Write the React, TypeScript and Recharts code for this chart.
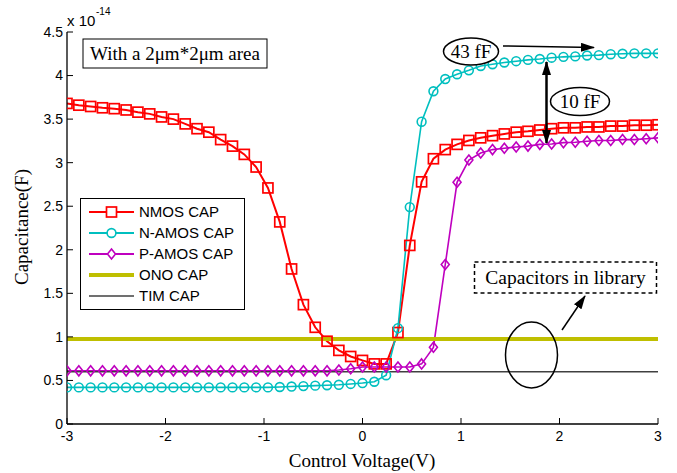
import { LineChart, Line, XAxis, YAxis } from 'recharts';

// gate voltage sweep (V)
const voltage = [
  -3, -2.88, -2.76, -2.64, -2.52, -2.4, -2.28, -2.16, -2.04, -1.92, -1.8, -1.68, -1.56,
  -1.44, -1.32, -1.2, -1.08, -0.96, -0.84, -0.72, -0.6, -0.48, -0.36, -0.24, -0.12, 0,
  0.12, 0.24, 0.36, 0.48, 0.6, 0.72, 0.84, 0.96, 1.08, 1.2, 1.32, 1.44, 1.56, 1.68, 1.8,
  1.92, 2.04, 2.16, 2.28, 2.4, 2.52, 2.64, 2.76, 2.88, 3,
];

// capacitance, x 1e-14 F
const nmosCap = [
  3.68, 3.66, 3.645, 3.63, 3.62, 3.605, 3.58, 3.56, 3.525, 3.5, 3.445, 3.39, 3.35, 3.265,
  3.19, 3.095, 2.95, 2.71, 2.32, 1.78, 1.37, 1.11, 0.95, 0.845, 0.775, 0.73, 0.69, 0.69,
  1.05, 2.05, 2.78, 3.045, 3.15, 3.21, 3.255, 3.285, 3.31, 3.33, 3.35, 3.36, 3.375, 3.39,
  3.4, 3.4, 3.41, 3.41, 3.42, 3.42, 3.43, 3.43, 3.435,
];
const namosCap = [
  0.42, 0.42, 0.42, 0.42, 0.42, 0.42, 0.42, 0.42, 0.42, 0.42, 0.42, 0.42, 0.42, 0.42,
  0.42, 0.42, 0.42, 0.42, 0.425, 0.43, 0.435, 0.44, 0.445, 0.45, 0.46, 0.47, 0.485, 0.56,
  1.1, 2.49, 3.47, 3.82, 3.96, 4.015, 4.06, 4.11, 4.13, 4.15, 4.165, 4.18, 4.19, 4.205,
  4.215, 4.22, 4.23, 4.235, 4.245, 4.25, 4.255, 4.255, 4.255,
];
const pamosCap = [
  0.61, 0.61, 0.61, 0.61, 0.61, 0.61, 0.61, 0.61, 0.61, 0.61, 0.61, 0.61, 0.61, 0.61,
  0.61, 0.61, 0.61, 0.61, 0.61, 0.61, 0.61, 0.61, 0.61, 0.62, 0.635, 0.655, 0.655, 0.655,
  0.655, 0.655, 0.69, 0.88, 1.83, 2.775, 3.03, 3.11, 3.15, 3.165, 3.18, 3.19, 3.21, 3.215,
  3.23, 3.235, 3.245, 3.255, 3.255, 3.265, 3.265, 3.275, 3.285,
];
// library caps are flat over the sweep
const flatEnds = [-3, 3];
const onoCap = [0.975, 0.975];
const timCap = [0.6, 0.6];

const xTicks = [-3, -2, -1, 0, 1, 2, 3];
const yTicks = [0, 0.5, 1, 1.5, 2, 2.5, 3, 3.5, 4, 4.5];

const data = voltage.map((v, i) => ({
  v,
  nmos: nmosCap[i],
  namos: namosCap[i],
  pamos: pamosCap[i],
}));
const onoData = flatEnds.map((v, i) => ({ v, ono: onoCap[i] }));
const timData = flatEnds.map((v, i) => ({ v, tim: timCap[i] }));

const RED = '#ff0000';
const CYAN = '#00bfbf';
const MAGENTA = '#bf00bf';
const OLIVE = '#bfbf00';
const GREY = '#404040';
const SANS = 'Liberation Sans, Arial, sans-serif';
const SERIF = 'Liberation Serif, Times New Roman, serif';

const Square = (p: any) => (
  <rect key={p.index} x={p.cx - 5} y={p.cy - 5} width={10} height={10} fill="none" stroke={RED} strokeWidth={1.7} />
);
const Circle = (p: any) => (
  <circle key={p.index} cx={p.cx} cy={p.cy} r={4.4} fill="none" stroke={CYAN} strokeWidth={1.6} />
);
const Diamond = (p: any) => (
  <path
    key={p.index}
    d={`M${p.cx},${p.cy - 5}L${p.cx + 4},${p.cy}L${p.cx},${p.cy + 5}L${p.cx - 4},${p.cy}Z`}
    fill="none"
    stroke={MAGENTA}
    strokeWidth={1.6}
  />
);

const XTick = (p: any) => (
  <g>
    <line x1={p.x} x2={p.x} y1={p.y - 6} y2={p.y - 12} stroke="#000" />
    <text x={p.x} y={p.y} dy="0.8em" textAnchor="middle" fontFamily={SANS} fontSize={14} fill="#000">
      {p.payload.value}
    </text>
  </g>
);
const YTick = (p: any) => (
  <g>
    <line x1={p.x + 4} x2={p.x + 10} y1={p.y} y2={p.y} stroke="#000" />
    <text x={p.x} y={p.y} dy="0.35em" textAnchor="end" fontFamily={SANS} fontSize={14} fill="#000">
      {p.payload.value}
    </text>
  </g>
);

const legendItems = [
  { name: 'NMOS CAP', color: RED, width: 2, mark: 'square' },
  { name: 'N-AMOS CAP', color: CYAN, width: 2, mark: 'circle' },
  { name: 'P-AMOS CAP', color: MAGENTA, width: 2, mark: 'diamond' },
  { name: 'ONO CAP', color: OLIVE, width: 4, mark: '' },
  { name: 'TIM CAP', color: GREY, width: 1.5, mark: '' },
];

function Overlay() {
  return (
    <svg width={677} height={473} style={{ position: 'absolute', left: 0, top: 0, pointerEvents: 'none' }}>
      <defs>
        <marker
          id="head"
          viewBox="0 0 14 9"
          refX="13"
          refY="4.5"
          markerUnits="userSpaceOnUse"
          markerWidth="14"
          markerHeight="9"
          orient="auto-start-reverse"
        >
          <path d="M0,0L14,4.5L0,9Z" fill="#000" />
        </marker>
      </defs>
      {/* exponent */}
      <text x={67} y={26} fontFamily={SANS} fontSize={15}>x 10</text>
      <text x={96} y={15} fontFamily={SANS} fontSize={10}>-14</text>

      {/* axis titles */}
      <text x={362} y={467} textAnchor="middle" fontFamily={SERIF} fontSize={19}>Control Voltage(V)</text>
      <text x={28} y={227} textAnchor="middle" fontFamily={SERIF} fontSize={19} transform="rotate(-90 28 227)">
        Capacitance(F)
      </text>

      {/* area note */}
      <rect x={83} y={39} width={184} height={29} fill="#fff" stroke="#000" />
      <text x={175} y={60} textAnchor="middle" fontFamily={SERIF} fontSize={19}>With a 2μm*2μm area</text>

      {/* 43 fF */}
      <ellipse cx={471} cy={51.5} rx={27.5} ry={13.5} fill="#fff" stroke="#000" strokeWidth={1.5} />
      <text x={471} y={58} textAnchor="middle" fontFamily={SERIF} fontSize={19}>43 fF</text>
      <line x1={503} y1={46} x2={594} y2={47.5} stroke="#000" strokeWidth={1.5} markerEnd="url(#head)" />

      {/* 10 fF */}
      <line x1={546.5} y1={62} x2={546.5} y2={143} stroke="#000" strokeWidth={2.5} markerStart="url(#head)" markerEnd="url(#head)" />
      <ellipse cx={580} cy={101.5} rx={29.5} ry={14} fill="#fff" stroke="#000" strokeWidth={1.5} />
      <text x={580} y={108} textAnchor="middle" fontFamily={SERIF} fontSize={19}>10 fF</text>

      {/* library caps */}
      <rect x={474.5} y={262} width={182} height={31} fill="#fff" stroke="#000" strokeWidth={1.5} strokeDasharray="4 3" />
      <text x={565.5} y={284} textAnchor="middle" fontFamily={SERIF} fontSize={19.5}>Capacitors in library</text>
      <line x1={562} y1={330} x2={585} y2={296} stroke="#000" strokeWidth={1.5} markerEnd="url(#head)" />
      <ellipse cx={531.5} cy={355} rx={26} ry={33} fill="none" stroke="#000" strokeWidth={1.5} />

      {/* legend */}
      <rect x={80.5} y={198.5} width={164} height={111} fill="#fff" stroke="#000" />
      {legendItems.map((it, i) => {
        const y = 212 + i * 21;
        return (
          <g key={it.name}>
            <line x1={89} x2={134} y1={y} y2={y} stroke={it.color} strokeWidth={it.width} />
            {it.mark === 'square' && <rect x={106.5} y={y - 5} width={10} height={10} fill="#fff" stroke={RED} strokeWidth={1.7} />}
            {it.mark === 'circle' && <circle cx={111.5} cy={y} r={4.4} fill="#fff" stroke={CYAN} strokeWidth={1.6} />}
            {it.mark === 'diamond' && (
              <path d={`M111.5,${y - 5}L115.5,${y}L111.5,${y + 5}L107.5,${y}Z`} fill="#fff" stroke={MAGENTA} strokeWidth={1.6} />
            )}
            <text x={139} y={y} dy="0.35em" fontFamily={SANS} fontSize={15}>{it.name}</text>
          </g>
        );
      })}
    </svg>
  );
}

export default function App() {
  return (
    <div style={{ position: 'absolute', left: 0, top: 0, width: 677, height: 473, background: '#fff' }}>
      <LineChart width={677} height={473} data={data} margin={{ top: 32, right: 19, bottom: 19, left: 7 }}>
        <XAxis
          dataKey="v"
          type="number"
          domain={[-3, 3]}
          ticks={xTicks}
          allowDataOverflow
          height={30}
          tickSize={0}
          tickMargin={6}
          tickLine={false}
          axisLine={{ stroke: '#000', strokeWidth: 1.3 }}
          tick={<XTick />}
        />
        <YAxis
          type="number"
          domain={[0, 4.5]}
          ticks={yTicks}
          allowDataOverflow
          width={60}
          tickSize={0}
          tickMargin={4}
          tickLine={false}
          axisLine={{ stroke: '#000', strokeWidth: 1.3 }}
          tick={<YTick />}
        />
        <Line dataKey="nmos" stroke={RED} strokeWidth={2} dot={Square} isAnimationActive={false} />
        <Line dataKey="namos" stroke={CYAN} strokeWidth={1.6} dot={Circle} isAnimationActive={false} />
        <Line dataKey="pamos" stroke={MAGENTA} strokeWidth={1.6} dot={Diamond} isAnimationActive={false} />
        <Line data={onoData} dataKey="ono" stroke={OLIVE} strokeWidth={4} dot={false} isAnimationActive={false} />
        <Line data={timData} dataKey="tim" stroke={GREY} strokeWidth={1.5} dot={false} isAnimationActive={false} />
      </LineChart>
      <Overlay />
    </div>
  );
}
